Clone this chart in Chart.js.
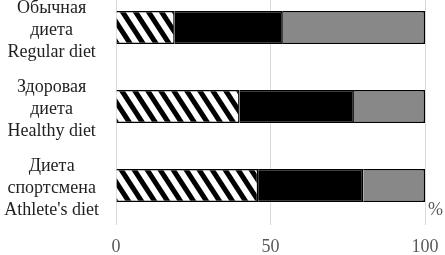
<!DOCTYPE html>
<html>
<head>
<meta charset="utf-8">
<script src="https://cdn.jsdelivr.net/npm/chart.js@4"></script>
<style>
  html, body { margin: 0; padding: 0; background: #fff; }
  #wrap { position: relative; width: 445px; height: 255px; overflow: hidden; }
  #wrap canvas { position: absolute; left: 0; top: -12px; }
</style>
</head>
<body>
<div id="wrap"><canvas id="dietChart" width="445" height="267"></canvas></div>
<script>
const categories = [
    ["Обычная", "диета", "Regular diet"],
    ["Здоровая", "диета", "Healthy diet"],
    ["Диета", "спортсмена", "Athlete's diet"],
];
const part1 = [19, 40, 46];
const part2 = [35, 37, 34];
const part3 = [46, 23, 20];
const xTicks = [0, 50, 100];

// diagonal hatch for the first segment
function makeHatch() {
    const c = document.createElement("canvas");
    c.width = 13;
    c.height = 20;
    const g = c.getContext("2d");
    g.fillStyle = "#fff";
    g.fillRect(0, 0, 13, 20);
    g.fillStyle = "#000";
    [0, -13, 13].forEach((dx) => {
        g.beginPath();
        g.moveTo(dx, 0);
        g.lineTo(dx + 6, 0);
        g.lineTo(dx + 19, 20);
        g.lineTo(dx + 13, 20);
        g.closePath();
        g.fill();
    });
    return g.createPattern(c, "repeat");
}

const percentSign = {
    id: "percentSign",
    afterDraw(chart) {
        const { ctx, chartArea } = chart;
        ctx.save();
        ctx.font = "18px 'Liberation Serif'";
        ctx.fillStyle = "#595959";
        ctx.textAlign = "left";
        ctx.textBaseline = "middle";
        ctx.fillText("%", chartArea.right + 3, chartArea.bottom - 15);
        ctx.restore();
    },
};

const ctx = document.getElementById("dietChart");
const hatch = makeHatch();

new Chart(ctx, {
    type: "bar",
    data: {
        labels: categories,
        datasets: [
            { data: part1, backgroundColor: hatch, borderColor: "#000", borderWidth: 1.5 },
            { data: part2, backgroundColor: "#000", borderColor: "#000", borderWidth: 1.5 },
            { data: part3, backgroundColor: "#888", borderColor: "#000", borderWidth: 1.5 },
        ],
    },
    options: {
        indexAxis: "y",
        responsive: false,
        animation: false,
        barPercentage: 0.42,
        categoryPercentage: 1,
        layout: { padding: { left: 3, right: 20, top: 0, bottom: 0 } },
        scales: {
            x: {
                stacked: true,
                min: 0,
                max: 100,
                afterBuildTicks: (axis) => {
                    axis.ticks = xTicks.map((v) => ({ value: v }));
                },
                afterFit: (axis) => {
                    axis.height = 30;
                    axis.paddingLeft = 0;
                    axis.paddingRight = 0;
                },
                grid: { color: "#d9d9d9", drawTicks: false },
                border: { display: false },
                ticks: {
                    padding: 11,
                    color: "#595959",
                    font: { family: "'Liberation Serif'", size: 18 },
                },
            },
            y: {
                stacked: true,
                afterFit: (axis) => {
                    axis.width = 113;
                    axis.paddingTop = 0;
                    axis.paddingBottom = 0;
                },
                grid: { display: false, drawTicks: false },
                border: { display: false },
                ticks: {
                    crossAlign: "center",
                    padding: 17,
                    labelOffset: 3,
                    color: "#1f1f1f",
                    font: { family: "'Liberation Serif'", size: 18, lineHeight: 1.22 },
                },
            },
        },
        plugins: {
            legend: { display: false },
            tooltip: { enabled: false },
        },
    },
    plugins: [percentSign],
});
</script>
</body>
</html>
